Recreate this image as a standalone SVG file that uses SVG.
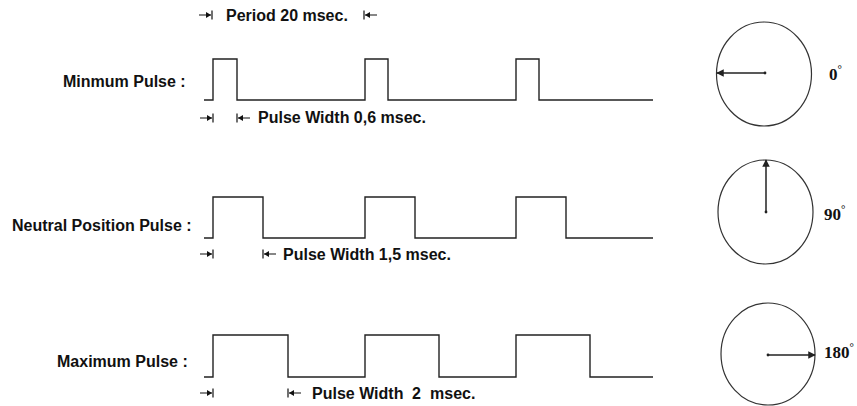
<svg xmlns="http://www.w3.org/2000/svg" xmlns:xlink="http://www.w3.org/1999/xlink" width="857" height="406" viewBox="0 0 857 406">
  <style>
    .label { font-family: "Liberation Sans", Arial, sans-serif; font-weight: bold; font-size: 16px; fill: #111; }
    .deg { font-family: "Liberation Serif", "Times New Roman", serif; font-weight: bold; font-size: 17px; fill: #111; }
    .wave { fill: none; stroke: #222; stroke-width: 1.4; }
    .dial { fill: none; stroke: #333; stroke-width: 1.2; }
    .needle { fill: none; stroke: #222; stroke-width: 1.5; }
    .dim { fill: none; stroke: #111; stroke-width: 1.2; }
  </style>
  <defs>
    <marker id="head" viewBox="0 0 10 10" refX="9" refY="5" markerWidth="5" markerHeight="5" orient="auto">
      <path d="M0,0 L10,5 L0,10 Z" fill="#222"/>
    </marker>
    <!-- arrow running right into a stop bar; bar sits at x=0 -->
    <symbol id="to-bar-right" overflow="visible">
      <path class="dim" d="M-13,0 H-1 M0,-4.5 V4.5"/>
      <path d="M-1,0 L-6,-3 L-6,3 Z" fill="#111"/>
    </symbol>
    <!-- arrow running left into a stop bar; bar sits at x=0 -->
    <symbol id="to-bar-left" overflow="visible">
      <path class="dim" d="M13,0 H1 M0,-4.5 V4.5"/>
      <path d="M1,0 L6,-3 L6,3 Z" fill="#111"/>
    </symbol>
  </defs>

  <rect width="857" height="406" fill="#fff"/>

  <!-- period annotation -->
  <g id="period">
    <use xlink:href="#to-bar-right" x="212" y="15"/>
    <text class="label" x="226" y="21">Period 20 msec.</text>
    <use xlink:href="#to-bar-left" x="364" y="15"/>
  </g>

  <!-- minimum pulse train -->
  <g id="row-min">
    <text class="label" x="63" y="87">Minmum Pulse :</text>
    <path class="wave" d="M204,100 H213 V59 H237 V100 H365 V59 H388 V100 H516 V59 H539 V100 H653"/>
    <use xlink:href="#to-bar-right" x="213" y="118"/>
    <use xlink:href="#to-bar-left" x="237" y="118"/>
    <text class="label" x="258" y="123">Pulse Width 0,6 msec.</text>
  </g>

  <!-- neutral pulse train -->
  <g id="row-neutral">
    <text class="label" x="12" y="231">Neutral Position Pulse :</text>
    <path class="wave" d="M204,238 H213 V197 H263 V238 H365 V197 H415 V238 H516 V197 H566 V238 H653"/>
    <use xlink:href="#to-bar-right" x="213" y="254"/>
    <use xlink:href="#to-bar-left" x="263" y="254"/>
    <text class="label" x="283" y="260">Pulse Width 1,5 msec.</text>
  </g>

  <!-- maximum pulse train -->
  <g id="row-max">
    <text class="label" x="57" y="367">Maximum Pulse :</text>
    <path class="wave" d="M204,377 H213 V335 H288 V377 H365 V335 H439 V377 H516 V335 H590 V377 H653"/>
    <use xlink:href="#to-bar-right" x="213" y="393"/>
    <use xlink:href="#to-bar-left" x="288" y="393"/>
    <text class="label" y="399"><tspan x="312">Pulse Width</tspan><tspan x="412">2</tspan><tspan x="430">msec.</tspan></text>
  </g>

  <!-- servo dials -->
  <g id="dial-0">
    <ellipse class="dial" cx="764" cy="74" rx="47.5" ry="52"/>
    <circle cx="765" cy="73" r="1.4" fill="#222"/>
    <text class="deg" x="829" y="80">0<tspan dy="-7" font-size="11">°</tspan></text>
  </g>
  <g id="dial-90">
    <ellipse class="dial" cx="765.5" cy="212" rx="47.5" ry="52"/>
    <circle cx="766" cy="212" r="1.4" fill="#222"/>
    <text class="deg" x="824" y="220">90<tspan dy="-7" font-size="11">°</tspan></text>
  </g>
  <g id="dial-180">
    <ellipse class="dial" cx="768" cy="354" rx="47" ry="51"/>
    <circle cx="768" cy="355" r="1.4" fill="#222"/>
    <text class="deg" x="824" y="358">180<tspan dy="-7" font-size="11">°</tspan></text>
  </g>

  <!-- needles -->
  <g id="connectors">
    <line class="needle" x1="765" y1="73" x2="717" y2="73" marker-end="url(#head)"/>
    <line class="needle" x1="766" y1="212" x2="766" y2="160" marker-end="url(#head)"/>
    <line class="needle" x1="768" y1="355" x2="815" y2="355" marker-end="url(#head)"/>
  </g>
</svg>
